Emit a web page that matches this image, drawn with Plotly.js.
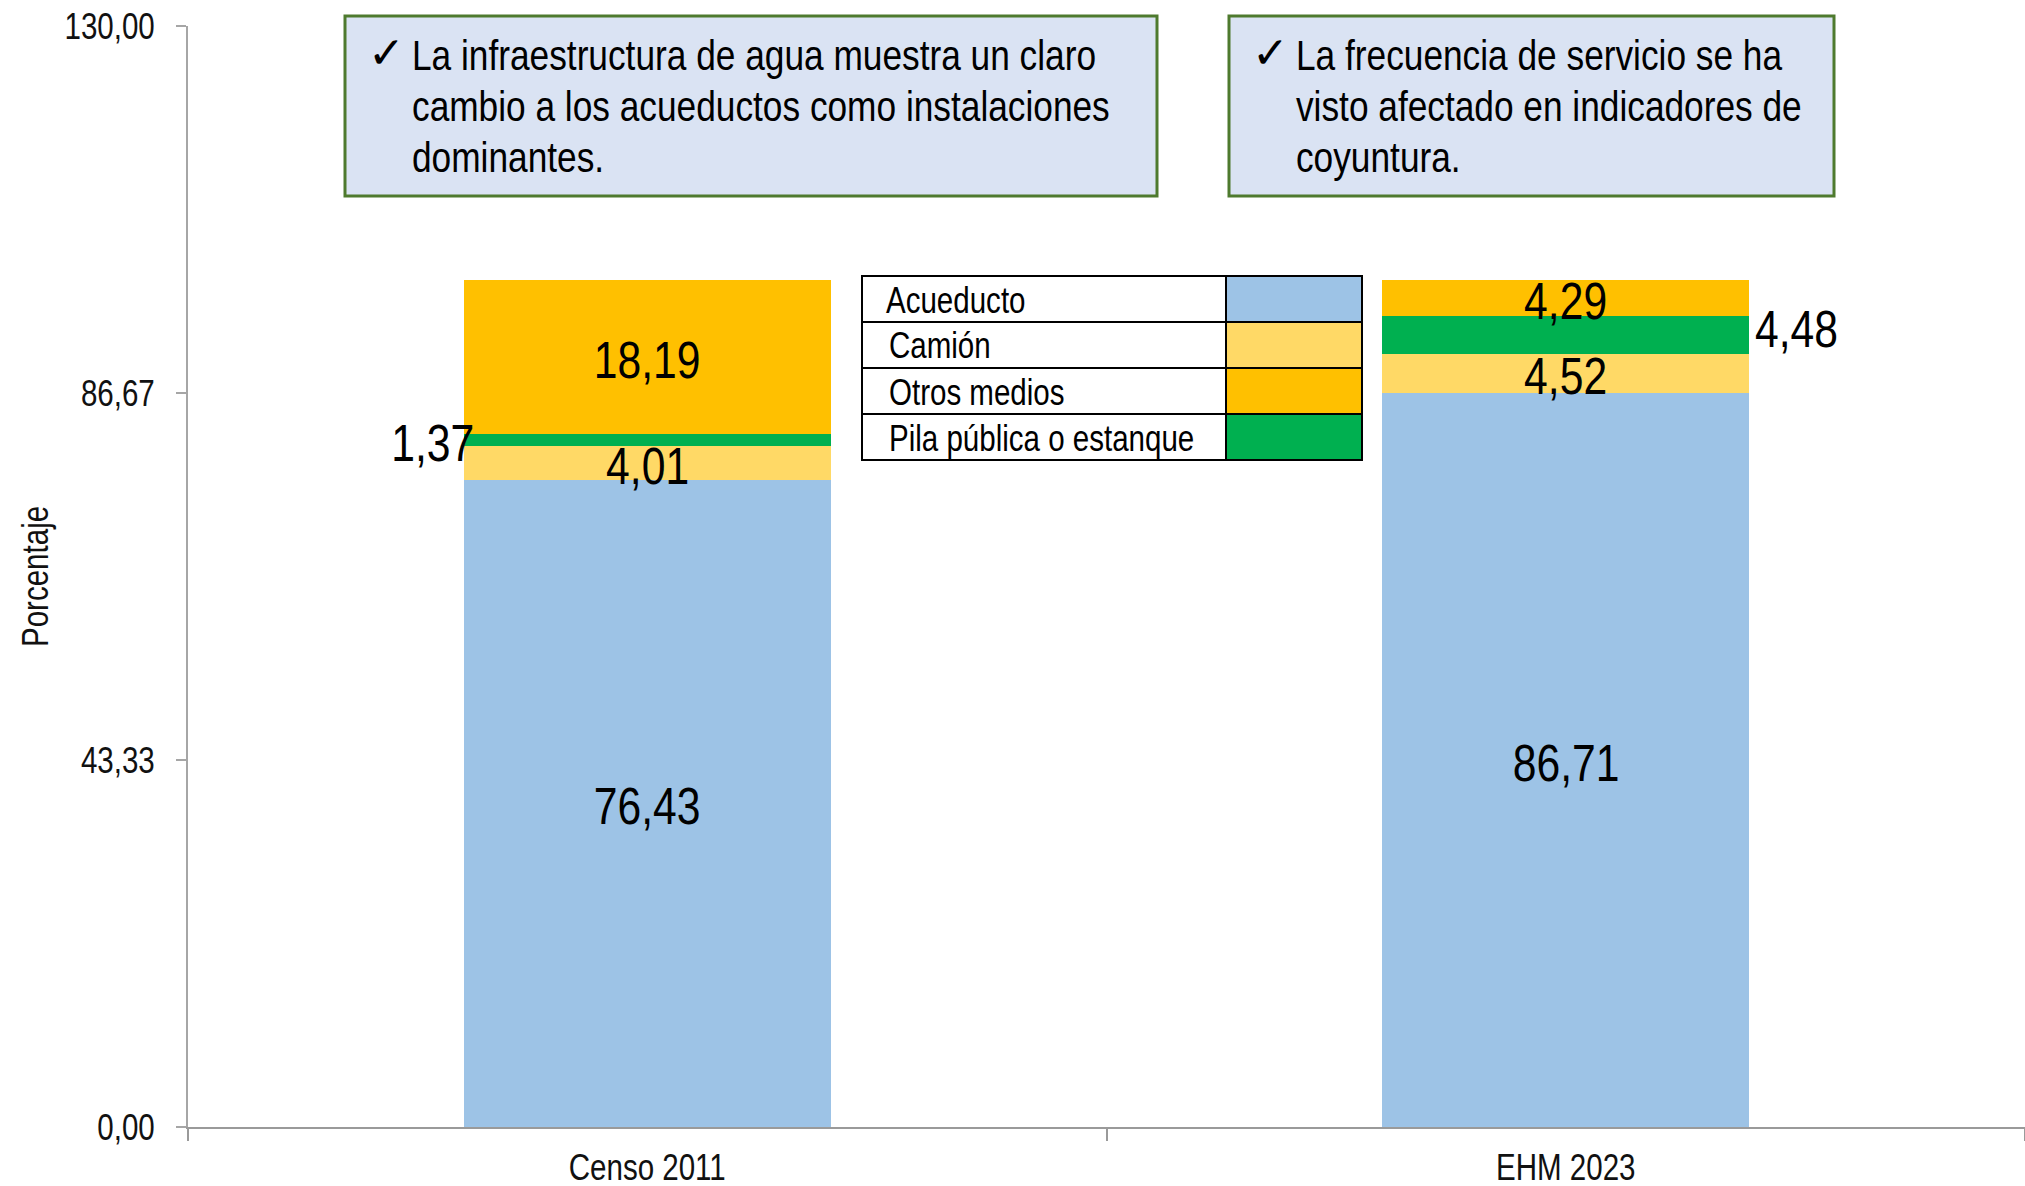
<!DOCTYPE html>
<html>
<head>
<meta charset="utf-8">
<script src="https://cdn.plot.ly/plotly-3.0.1.min.js"></script>
<style>
html,body{margin:0;padding:0;background:#fff;}
#chart{width:2025px;height:1186px;}
</style>
</head>
<body>
<div id="chart"></div>
<script>
// ---- Data ----
const categories = ['Censo 2011', 'EHM 2023'];
const acueducto = [76.43, 86.71];
const camion = [4.01, 4.52];
const pila = [1.37, 4.48];
const otros = [18.19, 4.29];
const seriesNames = ['Acueducto', 'Camión', 'Pila pública o estanque', 'Otros medios'];
const legendOrder = ['Acueducto', 'Camión', 'Otros medios', 'Pila pública o estanque'];
const yTickVals = [0, 43.33, 86.67, 130];
const yTickText = ['0,00', '43,33', '86,67', '130,00'];
const yTitle = 'Porcentaje';
const note1Lines = ['La infraestructura de agua muestra un claro', 'cambio a los acueductos como instalaciones', 'dominantes.'];
const note2Lines = ['La frecuencia de servicio se ha', 'visto afectado en indicadores de', 'coyuntura.'];

// ---- Styles ----
const FONT = 'Liberation Sans Narrow, Arial Narrow, Liberation Sans, Arial, sans-serif';
const NARROW = 0.82; // horizontal condensation applied to text (Arial Narrow look)
const colorMap = {
  'Acueducto': '#9DC3E6',
  'Camión': '#FFD966',
  'Otros medios': '#FFC000',
  'Pila pública o estanque': '#00B050'
};
const seriesData = [acueducto, camion, pila, otros];
const placement = {
  'Acueducto': ['in', 'in'],
  'Camión': ['in', 'in'],
  'Pila pública o estanque': ['left', 'right'],
  'Otros medios': ['in', 'in']
};

const fmt = v => v.toFixed(2).replace('.', ',');

const traces = seriesNames.map((name, i) => ({
  type: 'bar',
  name: name,
  x: categories,
  y: seriesData[i],
  marker: {color: colorMap[name], line: {width: 0}},
  showlegend: false,
  hoverinfo: 'x+y+name'
}));

// ---- Layout geometry ----
const W = 2025, H = 1186;
const mL = 188, mR = 0, mT = 26, mB = 59;
const pw = W - mL - mR, ph = H - mT - mB;
const px = X => (X - mL) / pw;
const py = Y => (H - mB - Y) / ph;

const annotations = [];
const shapes = [];

// value labels from data
const cum = [0, 0];
seriesNames.forEach((name, i) => {
  seriesData[i].forEach((v, c) => {
    const mid = cum[c] + v / 2;
    cum[c] += v;
    const pl = placement[name][c];
    const a = {
      xref: 'x', yref: 'y', y: mid, text: fmt(v), showarrow: false,
      font: {family: FONT, size: 52, color: '#000'}, yanchor: 'middle', yshift: -3
    };
    if (pl === 'in') { a.x = c; a.xanchor = 'center'; }
    else if (pl === 'left') { a.x = c - 0.2; a.xanchor = 'right'; a.xshift = 12; }
    else { a.x = c + 0.2; a.xanchor = 'left'; a.xshift = 4; a.yshift = 6; }
    annotations.push(a);
  });
});

// y-axis title
annotations.push({xref: 'paper', yref: 'paper', x: px(35), y: 0.5, xanchor: 'center', yanchor: 'middle',
  textangle: -90, text: yTitle, showarrow: false, font: {family: FONT, size: 36, color: '#111'}});

// note boxes
function noteBox(x0, x1, y0, y1, checkX, textX, lines) {
  shapes.push({type: 'rect', xref: 'paper', yref: 'paper', x0: px(x0), x1: px(x1), y0: py(y1), y1: py(y0),
    fillcolor: '#DAE3F3', line: {color: '#4E7A2E', width: 3}, layer: 'above'});
  const lineY = [55, 106, 157];
  annotations.push({xref: 'paper', yref: 'paper', x: px(checkX), y: py(lineY[0] - 3), xanchor: 'left', yanchor: 'middle',
    text: '✓', showarrow: false, font: {family: 'DejaVu Sans, sans-serif', size: 44, color: '#000'}});
  lines.forEach((t, k) => {
    annotations.push({xref: 'paper', yref: 'paper', x: px(textX), y: py(lineY[k]), xanchor: 'left', yanchor: 'middle',
      text: t, showarrow: false, font: {family: FONT, size: 43, color: '#000'}});
  });
}
noteBox(345, 1157, 16, 196, 366, 410, note1Lines);
noteBox(1229, 1834, 16, 196, 1250, 1294, note2Lines);

// legend table
const lgX0 = 862, lgXd = 1226, lgX1 = 1362, lgY0 = 276, rowH = 46;
legendOrder.forEach((name, k) => {
  const yTop = lgY0 + k * rowH, yBot = yTop + rowH;
  shapes.push({type: 'rect', xref: 'paper', yref: 'paper', x0: px(lgX0), x1: px(lgXd), y0: py(yBot), y1: py(yTop),
    fillcolor: '#FFFFFF', line: {color: '#000', width: 2}, layer: 'above'});
  shapes.push({type: 'rect', xref: 'paper', yref: 'paper', x0: px(lgXd), x1: px(lgX1), y0: py(yBot), y1: py(yTop),
    fillcolor: colorMap[name], line: {color: '#000', width: 2}, layer: 'above'});
  annotations.push({xref: 'paper', yref: 'paper', x: px(lgX0 + (k === 0 ? 22 : 25)), y: py(yTop + rowH / 2 + 1), xanchor: 'left', yanchor: 'middle',
    text: name, showarrow: false, font: {family: FONT, size: 36, color: '#000'}});
});

const layout = {
  width: W, height: H,
  margin: {l: mL, r: mR, t: mT, b: mB, pad: 0},
  paper_bgcolor: '#fff', plot_bgcolor: '#fff',
  barmode: 'stack', bargap: 0.6,
  showlegend: false,
  font: {family: FONT, color: '#000'},
  xaxis: {
    type: 'category', range: [-0.5, 1.5], fixedrange: true,
    showline: true, linecolor: '#9A9A9A', linewidth: 2,
    ticks: 'outside', ticklen: 12, tickcolor: '#9A9A9A', tickwidth: 2, tickson: 'boundaries',
    tickfont: {family: FONT, size: 36, color: '#111'}, ticklabelstandoff: 8,
    showgrid: false, zeroline: false
  },
  yaxis: {
    range: [0, 130], fixedrange: true,
    tickmode: 'array', tickvals: yTickVals, ticktext: yTickText,
    showline: true, linecolor: '#A6A6A6', linewidth: 2,
    ticks: 'outside', ticklen: 10, tickcolor: '#A6A6A6', tickwidth: 2,
    tickfont: {family: FONT, size: 36, color: '#111'}, ticklabelstandoff: 14,
    showgrid: false, zeroline: false
  },
  annotations: annotations,
  shapes: shapes
};

function condenseText(gd) {
  // annotation texts: keep their anchored edge after condensing
  gd.querySelectorAll('g.annotation').forEach(g => {
    const idx = +g.getAttribute('data-index');
    const ann = layout.annotations[idx];
    const t = g.querySelector('text.annotation-text');
    if (!t || !ann) return;
    const s = t.textContent.trim();
    if (!s || s === '✓') return;
    const len = t.getComputedTextLength();
    t.setAttribute('textLength', (len * NARROW).toFixed(2));
    t.setAttribute('lengthAdjust', 'spacingAndGlyphs');
    let dx = 0;
    if (ann.xanchor === 'left') dx = -(1 - NARROW) * len / 2;
    else if (ann.xanchor === 'right') dx = (1 - NARROW) * len / 2;
    if (dx) {
      const prev = t.getAttribute('transform') || '';
      t.setAttribute('transform', 'translate(' + dx.toFixed(2) + ',0) ' + prev);
    }
  });
  // axis tick labels
  gd.querySelectorAll('g.xtick text, g.ytick text').forEach(t => {
    const len = t.getComputedTextLength();
    if (len > 0) {
      t.setAttribute('textLength', (len * NARROW).toFixed(2));
      t.setAttribute('lengthAdjust', 'spacingAndGlyphs');
    }
  });
}

const gd = document.getElementById('chart');
Plotly.newPlot(gd, traces, layout, {displayModeBar: false, staticPlot: true}).then(() => condenseText(gd));
</script>
</body>
</html>
